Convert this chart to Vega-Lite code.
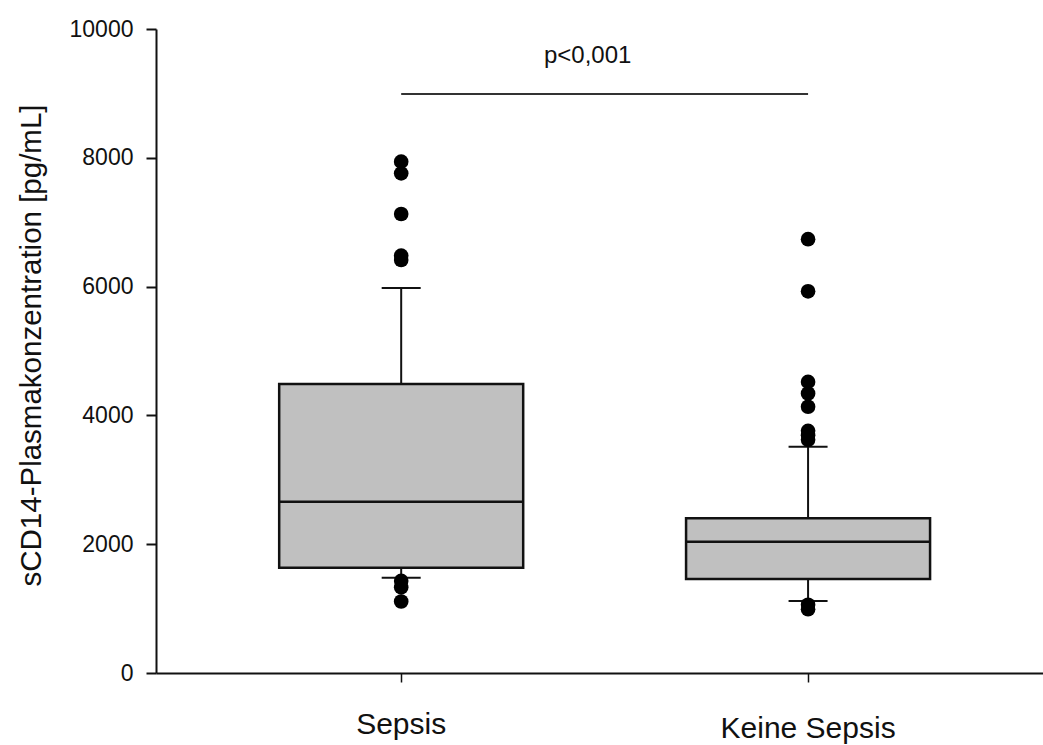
{
  "$schema": "https://vega.github.io/schema/vega-lite/v6.json",
  "width": 887,
  "height": 644,
  "autosize": {"type": "none"},
  "padding": {"left": 156, "top": 29, "right": 0, "bottom": 72},
  "background": "white",
  "config": {
    "view": {"stroke": null},
    "font": "Liberation Sans",
    "axis": {
      "labelFont": "Liberation Sans",
      "titleFont": "Liberation Sans",
      "labelColor": "#111111",
      "titleColor": "#111111",
      "domainColor": "#111111",
      "tickColor": "#111111",
      "domainWidth": 2,
      "tickWidth": 2,
      "grid": false
    }
  },
  "datasets": {
    "boxes": [
      {"group": "Sepsis", "lower": 1480, "q1": 1635, "median": 2660, "q3": 4488, "upper": 5980},
      {"group": "Keine Sepsis", "lower": 1118, "q1": 1460, "median": 2039, "q3": 2402, "upper": 3514}
    ],
    "outliers": [
      {"group": "Sepsis", "value": 7940},
      {"group": "Sepsis", "value": 7759},
      {"group": "Sepsis", "value": 7127},
      {"group": "Sepsis", "value": 6480},
      {"group": "Sepsis", "value": 6413},
      {"group": "Sepsis", "value": 1430},
      {"group": "Sepsis", "value": 1330},
      {"group": "Sepsis", "value": 1110},
      {"group": "Keine Sepsis", "value": 6736},
      {"group": "Keine Sepsis", "value": 5927},
      {"group": "Keine Sepsis", "value": 4520},
      {"group": "Keine Sepsis", "value": 4340},
      {"group": "Keine Sepsis", "value": 4135},
      {"group": "Keine Sepsis", "value": 3760},
      {"group": "Keine Sepsis", "value": 3690},
      {"group": "Keine Sepsis", "value": 3620},
      {"group": "Keine Sepsis", "value": 1060},
      {"group": "Keine Sepsis", "value": 990}
    ],
    "significance": [
      {"from": "Sepsis", "to": "Keine Sepsis", "bar": 8990, "labelAt": 9470, "label": "p<0,001"}
    ]
  },
  "encoding": {
    "x": {
      "field": "group",
      "type": "nominal",
      "sort": ["Sepsis", "Keine Sepsis"],
      "scale": {"type": "band", "domain": ["Sepsis", "Keine Sepsis"], "paddingInner": 0, "paddingOuter": 0.09, "align": 0.57},
      "axis": {
        "title": null,
        "labelAngle": 0,
        "labelFontSize": 30,
        "labelBaseline": "alphabetic",
        "labelPadding": {"condition": {"test": "datum.value === 'Keine Sepsis'", "value": 55}, "value": 51},
        "tickSize": 9,
        "tickWidth": 1.5
      }
    }
  },
  "layer": [
    {
      "data": {"name": "boxes"},
      "mark": {"type": "rule", "stroke": "#111111", "strokeWidth": 2},
      "encoding": {
        "y": {
          "field": "q3",
          "type": "quantitative",
          "scale": {"domain": [0, 10000], "nice": false, "zero": true},
          "axis": {
            "values": [0, 2000, 4000, 6000, 8000, 10000],
            "format": "d",
            "labelFontSize": 23,
            "labelPadding": 13,
            "tickSize": 10,
            "title": "sCD14-Plasmakonzentration [pg/mL]",
            "titleFontSize": 29.5,
            "titleFontWeight": "normal",
            "titleAngle": -90,
            "titleAlign": "center",
            "titleBaseline": "alphabetic",
            "titleX": -116,
            "titleY": 316
          }
        },
        "y2": {"field": "upper"}
      }
    },
    {
      "data": {"name": "boxes"},
      "mark": {"type": "rule", "stroke": "#111111", "strokeWidth": 2},
      "encoding": {
        "y": {"field": "lower", "type": "quantitative"},
        "y2": {"field": "q1"}
      }
    },
    {
      "data": {"name": "boxes"},
      "mark": {"type": "tick", "color": "#111111", "size": 39, "thickness": 2, "opacity": 1},
      "encoding": {
        "y": {"field": "upper", "type": "quantitative"}
      }
    },
    {
      "data": {"name": "boxes"},
      "mark": {"type": "tick", "color": "#111111", "size": 39, "thickness": 2, "opacity": 1},
      "encoding": {
        "y": {"field": "lower", "type": "quantitative"}
      }
    },
    {
      "data": {"name": "boxes"},
      "mark": {"type": "bar", "width": 244, "fill": "#c0c0c0", "stroke": "#111111", "strokeWidth": 2.5},
      "encoding": {
        "y": {"field": "q1", "type": "quantitative"},
        "y2": {"field": "q3"}
      }
    },
    {
      "data": {"name": "boxes"},
      "mark": {"type": "tick", "color": "#111111", "size": 244, "thickness": 2.5, "opacity": 1},
      "encoding": {
        "y": {"field": "median", "type": "quantitative"}
      }
    },
    {
      "data": {"name": "outliers"},
      "mark": {"type": "point", "shape": "circle", "filled": true, "color": "#000000", "size": 215, "opacity": 1},
      "encoding": {
        "y": {"field": "value", "type": "quantitative"}
      }
    },
    {
      "data": {"name": "significance"},
      "mark": {"type": "rule", "stroke": "#333333", "strokeWidth": 2},
      "encoding": {
        "x": {"field": "from", "type": "nominal"},
        "x2": {"field": "to"},
        "y": {"field": "bar", "type": "quantitative"}
      }
    },
    {
      "data": {"name": "significance"},
      "mark": {"type": "text", "font": "Liberation Sans", "fontSize": 24, "color": "#111111", "align": "center", "baseline": "alphabetic", "dx": -17},
      "encoding": {
        "x": {"field": "to", "type": "nominal", "bandPosition": 0},
        "y": {"field": "labelAt", "type": "quantitative"},
        "text": {"field": "label"}
      }
    }
  ]
}
